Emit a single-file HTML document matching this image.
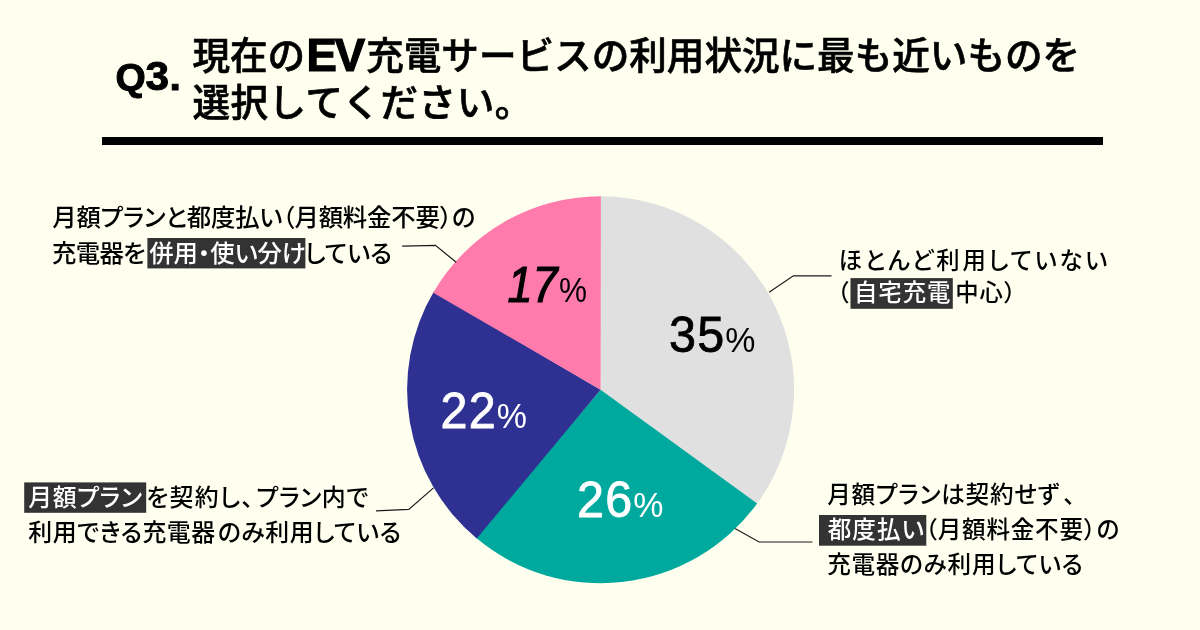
<!DOCTYPE html>
<html lang="ja">
<head>
<meta charset="utf-8">
<title>Q3. 現在のEV充電サービスの利用状況</title>
<style>
html,body{margin:0;padding:0;background:#fffff0;}
body{width:1200px;height:630px;overflow:hidden;}
svg{display:block;}
.jp{font-family:"Liberation Sans","Noto Sans CJK JP",sans-serif;}
.title{font-size:37.6px;font-weight:500;fill:#000;stroke:#000;stroke-width:0.65px;letter-spacing:0;}
.ev{font-family:"Liberation Sans",sans-serif;font-size:45.5px;font-weight:700;stroke:#000;stroke-width:1.2px;letter-spacing:-2px;}
.q{font-family:"Liberation Sans",sans-serif;font-weight:700;fill:#000;stroke:#000;stroke-width:1px;}
.lab{font-size:24.4px;font-weight:500;fill:#000;font-feature-settings:"palt";}
.hl{fill:#fff;}
.l25{font-size:23.4px;}
.l239{font-size:23.9px;letter-spacing:0.5px;}
.l236{font-size:23.6px;letter-spacing:0.75px;}
.num{font-family:"Liberation Sans",sans-serif;font-size:50px;fill:#000;stroke:#000;stroke-width:0.8px;letter-spacing:1.2px;}
.pct{font-size:35px;letter-spacing:0;stroke:none;}
.bi{font-style:italic;stroke-width:1.2px;}
.n{font-weight:400;font-style:normal;}
.w{fill:#fff;stroke:#fff;}
.lead{fill:none;stroke:#1a1a1a;stroke-width:1.2;}
</style>
</head>
<body>
<svg width="1200" height="630" viewBox="0 0 1200 630">
<rect x="0" y="0" width="1200" height="630" fill="#fffff0"/>

<!-- title -->
<g transform="translate(115.6,90) scale(1.05,1)"><text class="q" x="0" y="0"><tspan font-size="37">Q</tspan><tspan font-size="40.3" dx="-0.3">3</tspan><tspan font-size="39" dx="0.5">.</tspan></text></g>
<text class="jp title" y="69.3"><tspan x="192.4">現在の</tspan><tspan class="ev" x="306.5" dy="1.7">EV</tspan><tspan x="366.2" dy="-1.7">充電サービスの利用状況に最も近いものを</tspan></text>
<text class="jp title" x="192.4" y="116" style="letter-spacing:0.5px">選択してください。</text>
<rect x="102" y="137" width="1001" height="8" fill="#000"/>

<!-- pie -->
<path d="M600.6 389.75L599.25 196.25A193.5 193.5 0 0 1 756.35 504.58Z" fill="#e0e0e0"/>
<path d="M600.6 389.75L757.14 503.49A193.5 193.5 0 0 1 475.70 537.54Z" fill="#00a99d"/>
<path d="M600.6 389.75L476.74 538.41A193.5 193.5 0 0 1 433.87 291.54Z" fill="#2e3192"/>
<path d="M600.6 389.75L433.19 292.71A193.5 193.5 0 0 1 600.84 196.25Z" fill="#ff7bac"/>

<!-- leaders -->
<path class="lead" d="M769.1 292.3L793.4 275.8L831.5 275.8"/>
<path class="lead" d="M735 528.6L759.1 542L812.4 542"/>
<path class="lead" d="M376 510.8L408.8 509.4L433.5 487.9"/>
<path class="lead" d="M402.2 246.1L435.5 245.4L456.2 262.3"/>

<!-- highlights -->
<rect x="147.4" y="238" width="158" height="30.4" fill="#333"/>
<rect x="850.5" y="278.1" width="102.3" height="30.7" fill="#333"/>
<rect x="24.2" y="482.4" width="122" height="30.4" fill="#333"/>
<rect x="819" y="515" width="107.3" height="30.7" fill="#333"/>

<!-- labels -->
<text class="jp lab" x="52.2" y="225.6" style="letter-spacing:-0.15px">月額プランと都度払い（月額料金不要）の</text>
<text class="jp lab" y="261.6"><tspan x="52" style="letter-spacing:-0.7px">充電器を</tspan><tspan class="hl" x="149.2">併用・使い分け</tspan><tspan x="304.8">している</tspan></text>

<text class="jp lab l25" x="838.5" y="268.9" style="letter-spacing:2.75px">ほとんど利用していない</text>
<text class="jp lab l25" y="300.7"><tspan x="837">（</tspan><tspan class="hl" x="854" style="letter-spacing:0.95px">自宅充電</tspan><tspan x="955.2" style="letter-spacing:1px">中心）</tspan></text>

<text class="jp lab l239" y="506.1"><tspan class="hl" x="28.3">月額プラン</tspan><tspan x="146.2" style="letter-spacing:1.3px">を契約し、</tspan><tspan x="256.5">プラン内で</tspan></text>
<text class="jp lab l239" y="540.7"><tspan x="28.3">利用できる充電器</tspan><tspan x="217.9">のみ利用している</tspan></text>

<text class="jp lab l236" x="827.2" y="503.4">月額プランは契約せず<tspan dx="5">、</tspan></text>
<text class="jp lab l236" y="538.2"><tspan class="hl" x="827.7" style="letter-spacing:1.05px">都度払い</tspan><tspan x="925.2">（月額料金不要）</tspan><tspan x="1096.6">の</tspan></text>
<text class="jp lab l236" x="827.2" y="572.8">充電器のみ利用している</text>

<!-- numbers -->
<g transform="translate(669,352) scale(0.97,1)"><text class="num" x="0" y="0">35<tspan class="pct">%</tspan></text></g>
<g transform="translate(577,517) scale(0.97,1)"><text class="num w" x="0" y="0">26<tspan class="pct">%</tspan></text></g>
<g transform="translate(440.5,428.3) scale(0.97,1)"><text class="num w" x="0" y="0">22<tspan class="pct">%</tspan></text></g>
<g transform="translate(507.5,302.2) scale(0.9,1)"><text class="num bi" x="0" y="0" style="letter-spacing:0">17<tspan class="pct n" dx="1.5">%</tspan></text></g>
</svg>
</body>
</html>
